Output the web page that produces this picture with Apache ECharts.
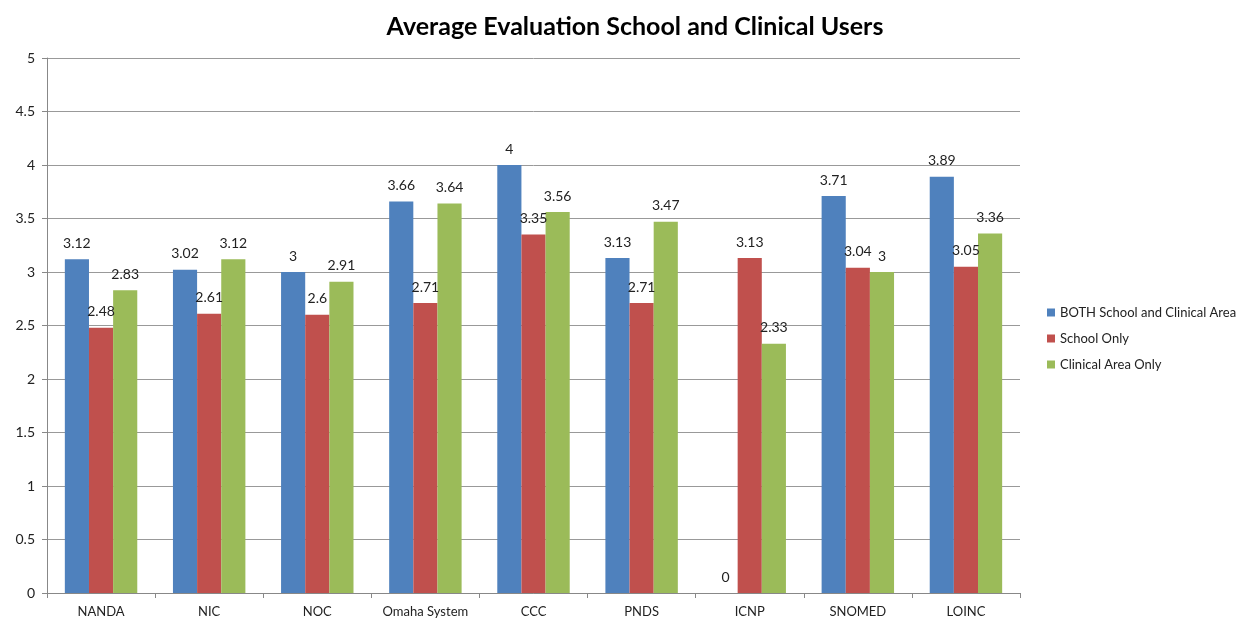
<!DOCTYPE html>
<html>
<head>
<meta charset="utf-8">
<script src="https://cdn.jsdelivr.net/npm/echarts@6/dist/echarts.min.js"></script>
<style>
  html, body { margin: 0; padding: 0; background: #fff; }
  #chart { width: 1249px; height: 628px; }
</style>
</head>
<body>
<div id="chart"></div>
<script>
const categories = ['NANDA', 'NIC', 'NOC', 'Omaha System', 'CCC', 'PNDS', 'ICNP', 'SNOMED', 'LOINC'];
const bothValues = [3.12, 3.02, 3, 3.66, 4, 3.13, 0, 3.71, 3.89];
const schoolValues = [2.48, 2.61, 2.6, 2.71, 3.35, 2.71, 3.13, 3.04, 3.05];
const clinicalValues = [2.83, 3.12, 2.91, 3.64, 3.56, 3.47, 2.33, 3, 3.36];
const seriesNames = ['BOTH School and Clinical Area', 'School Only', 'Clinical Area Only'];
const colors = ['#4f81bd', '#c0504d', '#9bbb59'];

const font = 'Lato, "Open Sans", sans-serif';

const chart = echarts.init(document.getElementById('chart'));

function makeSeries(name, data, color) {
  return {
    name: name,
    type: 'bar',
    data: data,
    barGap: '0%',
    barCategoryGap: '33%',
    itemStyle: { color: color },
    label: {
      show: true,
      position: 'top',
      distance: 9,
      color: '#222',
      fontSize: 14,
      fontFamily: font
    }
  };
}

chart.setOption({
  animation: false,
  title: {
    text: 'Average Evaluation School and Clinical Users',
    left: 630,
    top: 9,
    textAlign: 'center',
    textStyle: { fontSize: 25, fontWeight: 'bold', color: '#000', fontFamily: font }
  },
  legend: {
    orient: 'vertical',
    left: 1042,
    top: 301,
    itemWidth: 8,
    itemHeight: 8,
    itemGap: 13,
    icon: 'rect',
    textStyle: { fontSize: 13, color: '#222', fontFamily: font }
  },
  grid: { left: 47, right: 229, top: 58, bottom: 35 },
  xAxis: {
    type: 'category',
    data: categories,
    axisLine: { lineStyle: { color: '#888' } },
    axisTick: { show: true, length: 5, lineStyle: { color: '#888' } },
    axisLabel: { interval: 0, color: '#222', fontSize: 13, fontFamily: font, margin: 12 }
  },
  yAxis: {
    type: 'value',
    min: 0,
    max: 5,
    interval: 0.5,
    axisLine: { show: true, lineStyle: { color: '#888' } },
    axisTick: { show: true, length: 5, lineStyle: { color: '#888' } },
    axisLabel: { color: '#222', fontSize: 14, fontFamily: font, margin: 12 },
    splitLine: { lineStyle: { color: '#999' } }
  },
  series: [
    makeSeries(seriesNames[0], bothValues, colors[0]),
    makeSeries(seriesNames[1], schoolValues, colors[1]),
    makeSeries(seriesNames[2], clinicalValues, colors[2])
  ]
});
</script>
</body>
</html>
